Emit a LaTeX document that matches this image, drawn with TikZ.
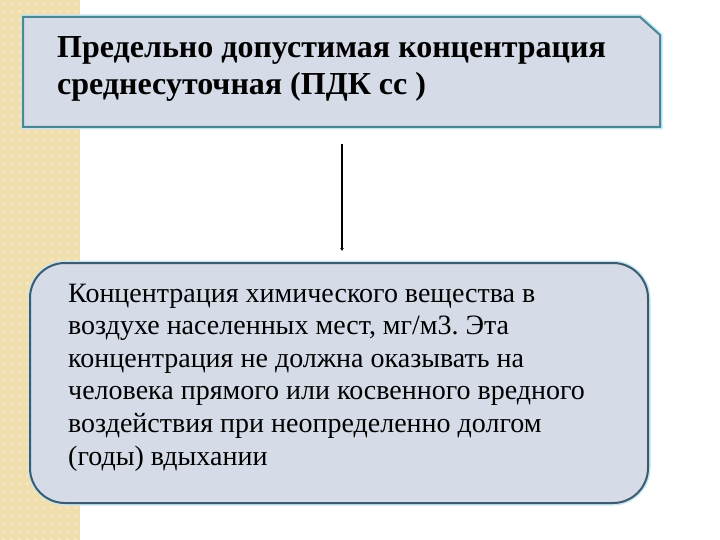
\documentclass[tikz,border=0pt]{standalone}
\usepackage{fontspec}
\setmainfont{Liberation Serif}
\usetikzlibrary{arrows.meta}
\frenchspacing
\definecolor{stripe}{RGB}{240,222,172}
\definecolor{stripedot}{RGB}{244,230,192}
\definecolor{boxfill}{RGB}{214,219,232}
\definecolor{topborder}{RGB}{74,135,150}
\definecolor{botborder}{RGB}{62,90,110}
\definecolor{glow}{RGB}{200,230,240}
\tikzset{
  panel/.style={fill=boxfill, line width=2pt},
  arrowline/.style={line width=2pt, -{Latex[length=3pt,width=4pt]}},
  headline/.style={inner sep=0pt, anchor=base west, font=\fontsize{32}{37}\selectfont\bfseries},
  bodyline/.style={inner sep=0pt, anchor=base west, font=\fontsize{28}{32.6}\selectfont},
}
\begin{document}
\begin{tikzpicture}[x=1pt,y=-1pt]
\useasboundingbox (0,0) rectangle (720,540);
\fill[white] (0,0) rectangle (720,540);
% left stripe
\fill[stripe] (0,0) rectangle (80,540);
\foreach \i in {0,...,9}{
  \foreach \j in {0,...,67}{
    \fill[stripedot] ({\i*8+2},{\j*8+2}) rectangle +(3,3);
  }
}
% top box with snipped corner
\draw[glow, line width=5pt] (23,17) -- (640,17) -- (660,35) -- (660,127) -- (23,127) -- cycle;
\draw[panel, draw=topborder] (23,17) -- (640,17) -- (660,35) -- (660,127) -- (23,127) -- cycle;
\node[headline] (top1) at (57,58) {Предельно допустимая концентрация};
\node[headline] (top2) at (57,95) {среднесуточная (ПДК сс )};
\coordinate (topanchor) at (342,144);
% bottom box
\draw[glow, line width=5pt, rounded corners=35pt] (30,263) rectangle (648,503);
\draw[panel, draw=botborder, rounded corners=35pt] (30,263) rectangle (648,503);
\node[bodyline] (b1) at (68,302.0) {Концентрация химического вещества в};
\node[bodyline] (b2) at (68,334.6) {воздухе населенных мест, мг/м3. Эта};
\node[bodyline] (b3) at (68,367.2) {концентрация не должна оказывать на};
\node[bodyline] (b4) at (68,399.8) {человека прямого или косвенного вредного};
\node[bodyline] (b5) at (68,432.4) {воздействия при неопределенно долгом};
\node[bodyline] (b6) at (68,465.0) {(годы) вдыхании};
\coordinate (botanchor) at (342,251);
\draw[arrowline] (topanchor) -- (botanchor);
\end{tikzpicture}
\end{document}
